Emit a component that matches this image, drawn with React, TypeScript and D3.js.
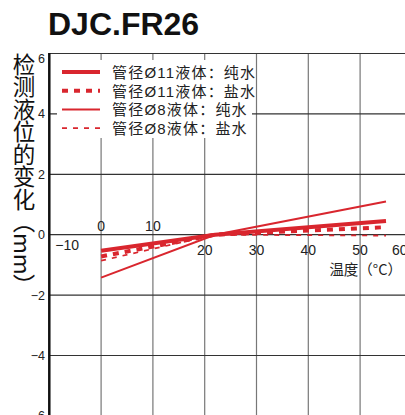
import React from "react";
import * as d3 from "d3";

// temperature (°C) and level change (mm)
const temps = [0, 22, 55];
const d11Pure = [-0.53, 0, 0.45];
const d11Salt = [-0.72, 0, 0.25];
const d8Pure = [-1.42, 0, 1.1];
const d8Salt = [-0.86, 0, -0.03];

const seriesNames = [
  "管径Ø11液体：纯水",
  "管径Ø11液体：盐水",
  "管径Ø8液体：纯水",
  "管径Ø8液体：盐水",
];

const xTicks = [-10, 0, 10, 20, 30, 40, 50, 60];
const yTicks = [6, 4, 2, 0, -2, -4, -6];

const RED = "#d9262e";
const LATIN = "'Liberation Sans', Arial, 'Noto Sans CJK SC', sans-serif";

export default function App() {
  const W = 405;
  const H = 415;

  const x = d3.scaleLinear().domain([-10, 60]).range([49.3, 411.9]);
  const y = d3.scaleLinear().domain([-6, 6]).range([415.9, 53.5]);

  const styles = [
    { w: 4, dash: "none" },
    { w: 4, dash: "6,6" },
    { w: 2, dash: "none" },
    { w: 1.7, dash: "5,6" },
  ];
  const series = [d11Pure, d11Salt, d8Pure, d8Salt];

  const line = d3
    .line<number>()
    .x((_, i) => x(temps[i]))
    .y((v) => y(v));

  const fmt = (v: number) => (v < 0 ? "\u2212" + Math.abs(v) : String(v));

  return (
    <svg
      width={W}
      height={H}
      style={{ position: "absolute", left: 0, top: 0, background: "#fff" }}
    >
      <text
        x={48}
        y={35}
        fontFamily={LATIN}
        fontWeight="bold"
        fontSize={32}
        fill="#111"
      >
        DJC.FR26
      </text>

      {/* vertical grid */}
      {xTicks
        .filter((t) => t > -10)
        .map((t) => (
          <line
            key={"vx" + t}
            x1={x(t)}
            x2={x(t)}
            y1={y(6)}
            y2={H}
            stroke="#777"
            strokeWidth={1.2}
          />
        ))}
      {/* horizontal grid */}
      {yTicks.map((t) => (
        <line
          key={"hy" + t}
          x1={x(-10)}
          x2={W}
          y1={y(t)}
          y2={y(t)}
          stroke="#333"
          strokeWidth={1.2}
        />
      ))}
      {/* left axis */}
      <line
        x1={x(-10)}
        x2={x(-10)}
        y1={y(6) - 0.6}
        y2={H}
        stroke="#111"
        strokeWidth={2.5}
      />

      {/* y tick labels */}
      {yTicks.map((t) => (
        <text
          key={"yl" + t}
          x={45}
          y={y(t) + (t === 6 ? 9 : 4.5)}
          textAnchor="end"
          fontFamily={LATIN}
          fontSize={12.5}
          fill="#222"
        >
          {fmt(t)}
        </text>
      ))}

      {/* x tick labels */}
      {xTicks.map((t) => {
        let tx = x(t);
        let ty = y(0) + 20;
        let anchor = "middle";
        if (t === 0 || t === 10) ty = y(0) - 4;
        if (t === -10) {
          tx = x(t) + 6;
          ty = y(0) + 15;
          anchor = "start";
        }
        if (t === 60) {
          tx = x(t) - 20;
          anchor = "start";
        }
        return (
          <text
            key={"xl" + t}
            x={tx}
            y={ty}
            textAnchor={anchor}
            fontFamily={LATIN}
            fontSize={14}
            fill="#222"
          >
            {fmt(t)}
          </text>
        );
      })}
      <text
        x={402}
        y={275}
        textAnchor="end"
        fontFamily="'Noto Sans CJK SC', sans-serif"
        fontSize={14.5}
        fill="#222"
      >
        温度（°C）
      </text>

      {/* y title */}
      <text
        x={24}
        y={53}
        fontFamily="'Noto Sans CJK SC', sans-serif"
        fontSize={22.5}
        fill="#111"
        style={{ writingMode: "vertical-rl" }}
      >
        检测液位的变化（mm）
      </text>

      {/* data lines */}
      {series.map((s, i) => (
        <path
          key={"s" + i}
          d={line(s) || ""}
          fill="none"
          stroke={RED}
          strokeWidth={styles[i].w}
          strokeDasharray={styles[i].dash}
        />
      ))}

      {/* legend */}
      <rect x={57} y={60} width={195} height={78} fill="#fff" />
      {seriesNames.map((name, i) => {
        const ly = 72 + i * 18.7;
        return (
          <g key={"lg" + i}>
            <line
              x1={62}
              x2={100}
              y1={ly}
              y2={ly}
              stroke={RED}
              strokeWidth={styles[i].w}
              strokeDasharray={styles[i].dash}
            />
            <text
              x={112}
              y={ly + 6}
              fontFamily={LATIN}
              fontSize={15}
              letterSpacing={1.2}
              fill="#222"
            >
              {name}
            </text>
          </g>
        );
      })}
    </svg>
  );
}
